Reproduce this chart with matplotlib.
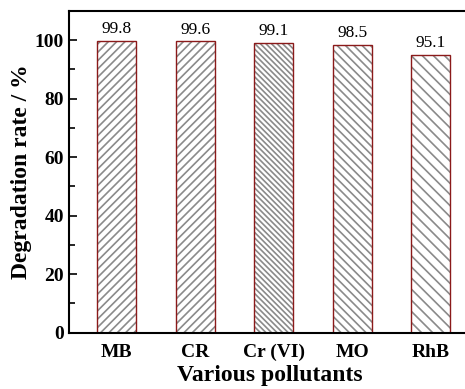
import matplotlib
matplotlib.use("Agg")
import matplotlib.pyplot as plt
import numpy as np

pollutants = ["MB", "CR", "Cr (VI)", "MO", "RhB"]
rates = [99.8, 99.6, 99.1, 98.5, 95.1]
hatches = ["////", "////", "\\\\\\\\\\\\", "\\\\\\\\", "\\\\\\"]

plt.rcParams["font.family"] = ["Liberation Serif", "DejaVu Serif"]
plt.rcParams["hatch.linewidth"] = 1.2
plt.rcParams["hatch.color"] = "#8a8a8a"

fig = plt.figure(figsize=(4.65, 3.89), dpi=100)
ax = fig.add_axes([69 / 465, 56.3 / 389, (470 - 69) / 465, 321.7 / 389])

x = np.arange(len(pollutants))
width = 0.5
for xi, r, h in zip(x, rates, hatches):
    ax.bar(xi, r, width, color="white", edgecolor="#8a8a8a", linewidth=0, hatch=h)
ax.bar(x, rates, width, fill=False, edgecolor="#8b1a1a", linewidth=1.0)

for xi, r in zip(x, rates):
    ax.text(xi, r + 1.2, f"{r:.1f}", ha="center", va="bottom", fontsize=12.5)

ax.set_xlim(-0.609, 4.5)
ax.set_ylim(0, 110)
ax.set_yticks([0, 20, 40, 60, 80, 100])
ax.set_yticks([10, 30, 50, 70, 90], minor=True)
ax.set_xticks(x)
ax.set_xticklabels(pollutants, fontweight="bold", fontsize=14)
ax.tick_params(axis="x", length=0, pad=8)
ax.tick_params(axis="y", which="both", direction="in", labelsize=14, width=1.2)
ax.tick_params(axis="y", which="major", length=6)
ax.tick_params(axis="y", which="minor", length=4)
for lab in ax.get_yticklabels():
    lab.set_fontweight("bold")
for s in ax.spines.values():
    s.set_linewidth(1.5)

ax.set_xlabel("Various pollutants", fontweight="bold", fontsize=17, labelpad=3)
ax.set_ylabel("Degradation rate / %", fontweight="bold", fontsize=17, labelpad=2)

fig.savefig("out.png", dpi=100)
